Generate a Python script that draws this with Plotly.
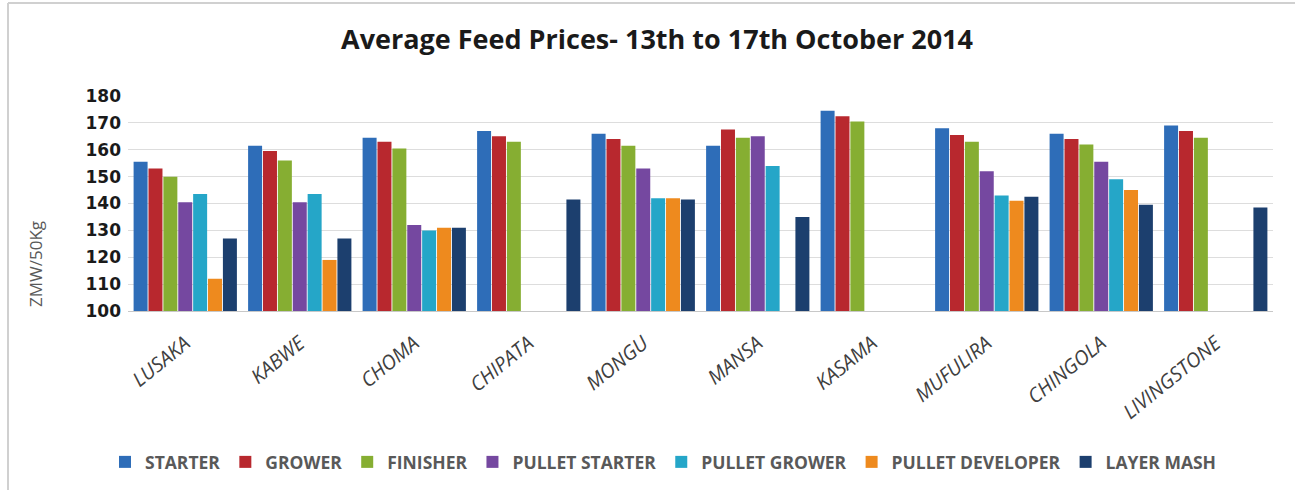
import plotly.graph_objects as go

cities = ["LUSAKA", "KABWE", "CHOMA", "CHIPATA", "MONGU", "MANSA", "KASAMA",
          "MUFULIRA", "CHINGOLA", "LIVINGSTONE"]

starter = [155.5, 161.5, 164.5, 167, 166, 161.5, 174.5, 168, 166, 169]
grower = [153, 159.5, 163, 165, 164, 167.5, 172.5, 165.5, 164, 167]
finisher = [150, 156, 160.5, 163, 161.5, 164.5, 170.5, 163, 162, 164.5]
pullet_starter = [140.5, 140.5, 132, None, 153, 165, None, 152, 155.5, None]
pullet_grower = [143.5, 143.5, 130, None, 142, 154, None, 143, 149, None]
pullet_developer = [112, 119, 131, None, 142, None, None, 141, 145, None]
layer_mash = [127, 127, 131, 141.5, 141.5, 135, None, 142.5, 139.5, 138.5]

series_names = ["STARTER", "GROWER", "FINISHER", "PULLET STARTER", "PULLET GROWER",
                "PULLET DEVELOPER", "LAYER MASH"]
series_values = [starter, grower, finisher, pullet_starter, pullet_grower,
                 pullet_developer, layer_mash]
colors = ["#2E6DB8", "#B8282E", "#86AE32", "#7548A0", "#25A6C8", "#EE8A1E", "#1C3F6E"]

y_ticks = [100, 110, 120, 130, 140, 150, 160, 170, 180]

fig = go.Figure()
for name, vals, col in zip(series_names, series_values, colors):
    fig.add_trace(go.Bar(
        x=cities, y=[v - 100 if v is not None else None for v in vals],
        base=100, name=name,
        marker=dict(color=col, line=dict(width=0)),
    ))

W, H = 1295, 490
L, R, T, B = 128, 22, 96, 179
pw, ph = W - L - R, H - T - B


def px_x(x):
    return (x - L) / pw


def px_y(y):
    return (H - B - y) / ph


fig.update_layout(
    width=W, height=H,
    margin=dict(l=L, r=R, t=T, b=B, autoexpand=False),
    paper_bgcolor="white", plot_bgcolor="white",
    barmode="group", bargap=0.09, bargroupgap=0.06,
    title=dict(text="<b>Average Feed Prices- 13th to 17th October 2014</b>",
               x=px_x(657), xanchor="center", xref="paper",
               y=1 - 40 / H, yanchor="middle",
               font=dict(family="Open Sans", size=27, color="#1a1a1a")),
    showlegend=True,
    legend=dict(orientation="h", x=663 / W, xanchor="center", xref="container",
                y=px_y(462), yanchor="middle",
                font=dict(family="Open Sans", size=17.5, color="#595959", weight="bold"),
                itemwidth=30, tracegroupgap=0, itemsizing="constant"),
    xaxis=dict(tickangle=-39,
               tickfont=dict(family="Open Sans", size=20, color="#404040", style="italic"),
               showline=True, linecolor="#C8C8C8", linewidth=1,
               ticks="", showgrid=False, ticklabelstandoff=12),
    yaxis=dict(range=[100, 180], tickvals=y_ticks,
               tickfont=dict(family="DejaVu Sans", size=17, color="#1a1a1a", weight="bold"),
               showgrid=True, gridcolor="#DDDDDD", gridwidth=1,
               zeroline=False, ticks="", ticklabelstandoff=6),
    annotations=[dict(text="ZMW/50Kg", xref="paper", yref="paper",
                      x=px_x(35), y=px_y(264), textangle=-90, showarrow=False,
                      xanchor="center", yanchor="middle",
                      font=dict(family="Open Sans", size=17, color="#595959"))],
    shapes=[
        dict(type="line", xref="paper", yref="paper",
             x0=px_x(8), x1=px_x(8), y0=px_y(3), y1=px_y(490),
             line=dict(color="#D0D0D0", width=2)),
        dict(type="line", xref="paper", yref="paper",
             x0=px_x(8), x1=px_x(1295), y0=px_y(3), y1=px_y(3),
             line=dict(color="#D0D0D0", width=2)),
    ],
)

fig.write_html("out.html", config={"displayModeBar": False},
               post_script="document.body.style.margin='0px';document.body.style.overflow='hidden';")
